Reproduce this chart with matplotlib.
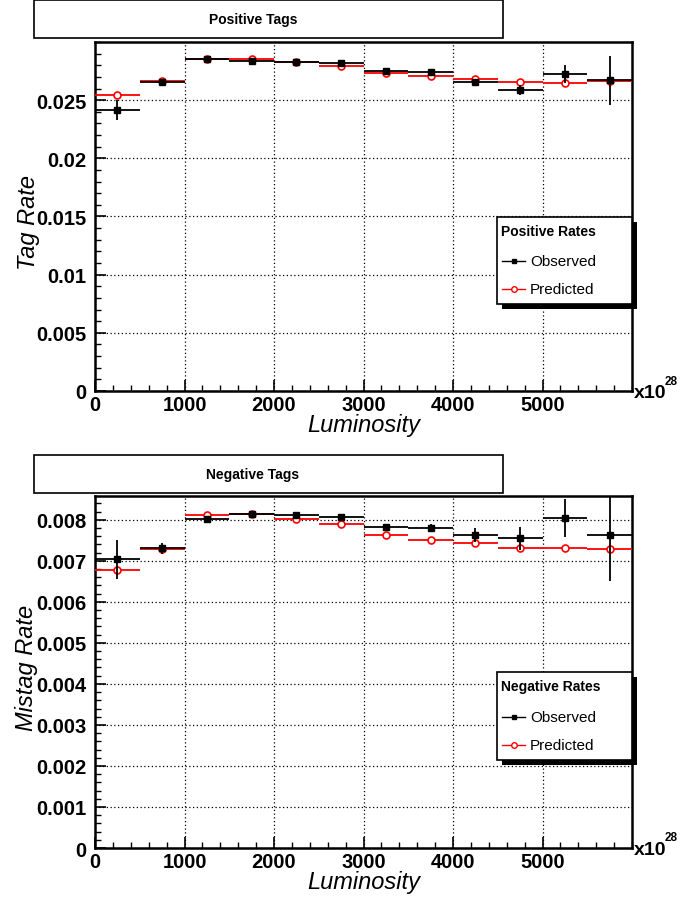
import numpy as np
import matplotlib
matplotlib.use('Agg')
import matplotlib.pyplot as plt
from matplotlib.patches import Rectangle
from matplotlib.lines import Line2D
from matplotlib.ticker import MultipleLocator

plt.rcParams['font.family'] = ['Liberation Sans', 'DejaVu Sans']

# luminosity bins (x10^28), 500 wide
bin_lo = [0, 500, 1000, 1500, 2000, 2500, 3000, 3500, 4000, 4500, 5000, 5500]
bin_width = 500

pos_obs = [0.02414, 0.02652, 0.02858, 0.02838, 0.02826, 0.02818,
           0.02752, 0.02741, 0.02657, 0.02588, 0.02726, 0.02672]
pos_obs_err = [0.00086, 0.00030, 0.00017, 0.00015, 0.00015, 0.00020,
               0.00020, 0.00020, 0.00029, 0.00043, 0.00079, 0.00210]
pos_pred = [0.02546, 0.02666, 0.02852, 0.02858, 0.02826, 0.02795,
            0.02735, 0.02704, 0.02686, 0.02655, 0.02649, 0.02666]

neg_obs = [0.007034, 0.007302, 0.008017, 0.008130, 0.008106, 0.008073,
           0.007814, 0.007797, 0.007619, 0.007545, 0.008040, 0.007620]
neg_obs_err = [0.00048, 0.00013, 0.00004, 0.00004, 0.00005, 0.00006,
               0.00007, 0.00010, 0.00017, 0.00027, 0.00047, 0.00110]
neg_pred = [0.006766, 0.007300, 0.008106, 0.008130, 0.008017, 0.007895,
            0.007634, 0.007512, 0.007440, 0.007318, 0.007318, 0.007285]

x = np.array(bin_lo) + bin_width / 2.0

fig = plt.figure(figsize=(6.85, 9.03), dpi=100)


def draw_panel(ax, obs, obs_err, pred, ymax, ymaj, ymin, leg_title):
    ax.errorbar(x, obs, xerr=bin_width / 2.0, yerr=obs_err, fmt='s', color='black',
                ms=4, lw=1.3, capsize=0, zorder=4)
    ax.errorbar(x, pred, xerr=bin_width / 2.0, fmt='o', color='red', mfc='white',
                mec='red', mew=1.2, ms=5, lw=1.3, capsize=0, zorder=3)
    ax.set_xlim(0, 6000)
    ax.set_ylim(0, ymax)
    ax.xaxis.set_major_locator(MultipleLocator(1000))
    ax.xaxis.set_minor_locator(MultipleLocator(200))
    ax.yaxis.set_major_locator(MultipleLocator(ymaj))
    ax.yaxis.set_minor_locator(MultipleLocator(ymin))
    ax.grid(True, which='major', color='black', linestyle=(0, (1, 2)), lw=0.9)
    ax.tick_params(which='both', direction='in', top=False, right=False)
    ax.tick_params(which='major', length=8, width=1.2, labelsize=14.5, pad=3)
    ax.tick_params(axis='y', which='major', pad=6)
    ax.tick_params(which='minor', length=4, width=1)
    for sp in ax.spines.values():
        sp.set_linewidth(1.8)
    ax.set_xticks([0, 1000, 2000, 3000, 4000, 5000])
    ax.set_xticklabels(['0', '1000', '2000', '3000', '4000', '5000'], fontweight='bold')
    ax.set_xlabel('Luminosity', fontsize=17, style='italic', labelpad=-1)

    # legend box with black shadow
    tr = ax.transAxes
    ax.add_patch(Rectangle((0.758, 0.235), 0.251, 0.25, transform=tr, facecolor='black',
                           lw=0, clip_on=False, zorder=9))
    ax.add_patch(Rectangle((0.749, 0.249), 0.251, 0.25, transform=tr, facecolor='white',
                           edgecolor='black', lw=1.2, clip_on=False, zorder=10))
    ax.text(0.756, 0.459, leg_title, transform=tr, fontsize=10, fontweight='bold',
            va='center', ha='left', zorder=11)
    ax.add_line(Line2D([0.758, 0.801], [0.373, 0.373], transform=tr, color='black', lw=1,
                       zorder=11))
    ax.plot([0.7795], [0.373], 's', color='black', ms=3.5, transform=tr, zorder=12, clip_on=False)
    ax.add_line(Line2D([0.758, 0.801], [0.292, 0.292], transform=tr, color='red', lw=1,
                       zorder=11))
    ax.plot([0.7795], [0.292], 'o', color='red', mfc='white', ms=4, transform=tr,
            zorder=12, clip_on=False)
    ax.text(0.810, 0.373, 'Observed', transform=tr, fontsize=11, va='center', zorder=11)
    ax.text(0.810, 0.292, 'Predicted', transform=tr, fontsize=11, va='center', zorder=11)

    # x10^28 exponent label
    ax.text(1.003, -0.005, 'x10', transform=tr, fontsize=14, fontweight='bold',
            ha='left', va='center')
    ax.text(1.061, 0.03, '28', transform=tr, fontsize=8.5, fontweight='bold',
            ha='left', va='center')


ax1 = fig.add_axes([0.1387, 0.5659, 0.784, 0.3865])
draw_panel(ax1, pos_obs, pos_obs_err, pos_pred, 0.030, 0.005, 0.001, 'Positive Rates')
ax1.set_yticks([0, 0.005, 0.01, 0.015, 0.02, 0.025])
ax1.set_yticklabels(['0', '0.005', '0.01', '0.015', '0.02', '0.025'], fontweight='bold')

ax2 = fig.add_axes([0.1387, 0.0598, 0.784, 0.3898])
draw_panel(ax2, neg_obs, neg_obs_err, neg_pred, 0.00858, 0.001, 0.0002, 'Negative Rates')
yt = [0, 0.001, 0.002, 0.003, 0.004, 0.005, 0.006, 0.007, 0.008]
ax2.set_yticks(yt)
ax2.set_yticklabels(['0'] + ['%.3f' % v for v in yt[1:]], fontweight='bold')

# y axis titles
fig.text(28 / 685, 1 - 222 / 903, 'Tag Rate', rotation=90, fontsize=17, style='italic',
         ha='center', va='center')
fig.text(26 / 685, 1 - 668 / 903, 'Mistag Rate', rotation=90, fontsize=17, style='italic',
         ha='center', va='center')

# title boxes
for y0, txt, ty in [(1 - 39 / 903, 'Positive Tags', 1 - 20 / 903),
                    (1 - 494 / 903, 'Negative Tags', 1 - 475.5 / 903)]:
    fig.patches.append(Rectangle((34 / 685, y0), 469 / 685, 38 / 903, transform=fig.transFigure,
                                 facecolor='white', edgecolor='black', lw=1.2))
    fig.text(253 / 685, ty, txt, fontsize=10, fontweight='bold', ha='center', va='center')

fig.savefig('out.png', dpi=100)
